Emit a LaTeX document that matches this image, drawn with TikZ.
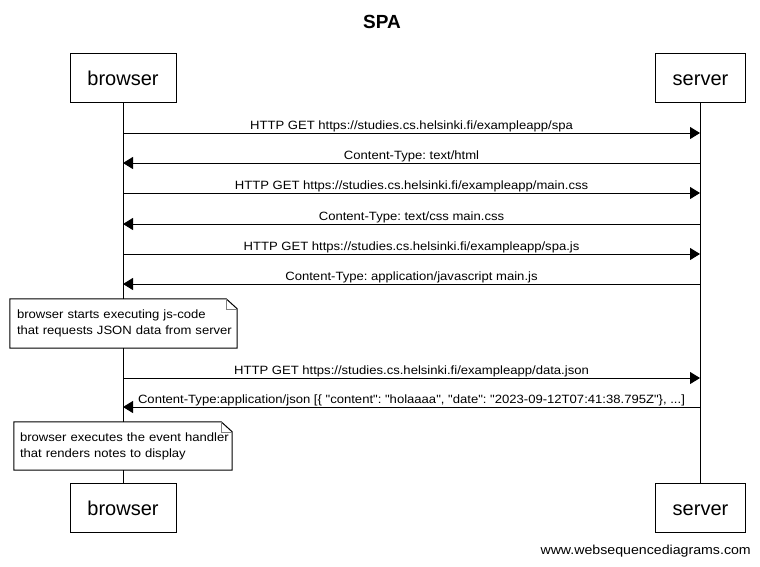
\documentclass[tikz,border=0pt]{standalone}
\usepackage{fontspec}
\setmainfont{Liberation Sans}
\newfontfamily\lblfont[FakeStretch=1.09]{Liberation Sans}
\usetikzlibrary{arrows.meta}
\frenchspacing
\begin{document}
\begin{tikzpicture}[x=1pt,y=-1pt,
  actor/.style={draw, line width=1pt, fill=white, minimum height=49pt, inner sep=0pt,
    text height=17pt, text depth=2pt, font=\fontsize{20}{24}\selectfont},
  msg/.style={line width=1pt, -{Triangle[length=10pt,width=12pt]}},
  lbl/.style={font=\lblfont\fontsize{12}{15}\selectfont, inner sep=0pt, anchor=base, yshift=4pt},
  notetext/.style={fill=white, align=left, inner ysep=0pt,
    font=\lblfont\fontsize{12}{16}\selectfont},
  noteline/.style={line width=1pt},
  foldline/.style={gray, line width=0.6pt},
  life/.style={line width=1pt}
]
\useasboundingbox (0,0) rectangle (760,566);

% title
\node[font=\bfseries\fontsize{19}{22}\selectfont] (title) at (382,22) {SPA};

% actors
\node[actor, minimum width=106pt] (bt) at (123,77.5) {browser};
\node[actor, minimum width=90pt] (st) at (700.5,77.5) {server};
\node[actor, minimum width=106pt] (bb) at (123,507.5) {browser};
\node[actor, minimum width=90pt] (sb) at (700.5,507.5) {server};

% lifelines
\draw[life] (bt.south) -- (bb.north);
\draw[life] (st.south) -- (sb.north);

% message end points
\foreach \i/\y in {1/133,2/163,3/193,4/224,5/254,6/284,7/378,8/407}{
  \coordinate (b\i) at (123,\y);
  \coordinate (s\i) at (700,\y);
}

\draw[msg] (b1) -- node[lbl] {HTTP GET https://studies.cs.helsinki.fi/exampleapp/spa} (s1);
\draw[msg] (s2) -- node[lbl] {Content-Type: text/html} (b2);
\draw[msg] (b3) -- node[lbl] {HTTP GET https://studies.cs.helsinki.fi/exampleapp/main.css} (s3);
\draw[msg] (s4) -- node[lbl] {Content-Type: text/css main.css} (b4);
\draw[msg] (b5) -- node[lbl] {HTTP GET https://studies.cs.helsinki.fi/exampleapp/spa.js} (s5);
\draw[msg] (s6) -- node[lbl] {Content-Type: application/javascript main.js} (b6);
\draw[msg] (b7) -- node[lbl] {HTTP GET https://studies.cs.helsinki.fi/exampleapp/data.json} (s7);
\draw[msg] (s8) -- node[lbl] {Content-Type:application/json [\{ "content": "holaaaa", "date": "2023-09-12T07:41:38.795Z"\}, ...]} (b8);

% notes
\node[notetext, inner xsep=7pt, minimum width=227pt, minimum height=49pt, text width=213pt] (n1) at (123.5,323.5)
  {\mbox{browser starts executing js-code}\\\mbox{that requests JSON data from server}};
\draw[noteline] (n1.north west) -- ([xshift=-11pt]n1.north east) -- ([yshift=-10pt]n1.north east)
  -- (n1.south east) -- (n1.south west) -- cycle;
\draw[foldline] ([xshift=-11pt]n1.north east) -- ([xshift=-11pt,yshift=-10pt]n1.north east) -- ([yshift=-10pt]n1.north east);

\node[notetext, inner xsep=6pt, minimum width=218pt, minimum height=48pt, text width=206pt] (n2) at (123,446)
  {\mbox{browser executes the event handler}\\\mbox{that renders notes to display}};
\draw[noteline] (n2.north west) -- ([xshift=-11pt]n2.north east) -- ([yshift=-10pt]n2.north east)
  -- (n2.south east) -- (n2.south west) -- cycle;
\draw[foldline] ([xshift=-11pt]n2.north east) -- ([xshift=-11pt,yshift=-10pt]n2.north east) -- ([yshift=-10pt]n2.north east);

% watermark
\node[anchor=east, inner sep=0pt, font=\lblfont\fontsize{13}{16}\selectfont] (wm) at (751,551) {www.websequencediagrams.com};
\end{tikzpicture}
\end{document}
